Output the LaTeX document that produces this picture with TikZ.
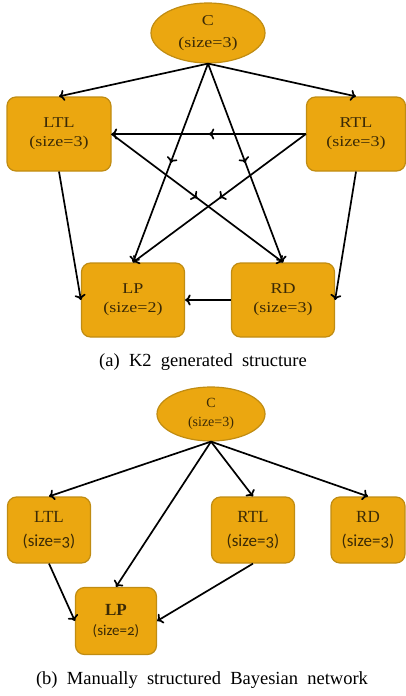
\documentclass[tikz,border=0pt]{standalone}
\usepackage{fontspec}
\setmainfont{Liberation Serif}
\newfontfamily\nodefont[FakeStretch=1.2]{Liberation Serif}
\newfontfamily\sizefont[Numbers=OldStyle]{Carlito}
\usetikzlibrary{arrows.meta,shapes.geometric,decorations.markings}
\definecolor{boxfill}{HTML}{EBA710}
\definecolor{boxline}{HTML}{C08C12}
\definecolor{boxtext}{HTML}{3B2A06}

\begin{document}
\begin{tikzpicture}[x=1pt,y=-1pt,>={To[length=5.5pt,width=11pt]},
    main node/.style={rectangle,rounded corners=9pt,draw=boxline,line width=1.2pt,fill=boxfill,text=boxtext,align=center,minimum width=104pt,minimum height=74pt,font=\nodefont\fontsize{15}{19}\selectfont},
    class node/.style={main node,ellipse,sharp corners,minimum width=114pt,minimum height=60pt,font=\nodefont\fontsize{15}{22}\selectfont},
    small node/.style={main node,minimum width=83pt,minimum height=66pt,font=\fontsize{17}{24}\selectfont},
    small class/.style={class node,minimum width=108pt,minimum height=54pt,font=\fontsize{14}{19}\selectfont},
    mid arrow/.style={postaction={decorate},decoration={markings,mark=at position 0.5 with {\arrow{>}}}},
    caption/.style={font=\fontsize{18.5}{22}\selectfont}]
    \useasboundingbox (0,0) rectangle (406,696);

    % (a) K2 structure
    \node[class node] at (208, 33) (c) {C\\(size=3)};
    \node[main node] at (59, 134) (ltl) {LTL\\(size=3)};
    \node[main node, minimum width=99pt] at (356, 134) (rtl) {RTL\\(size=3)};
    \node[main node, minimum width=103pt] at (133, 300) (lp) {LP\\(size=2)};
    \node[main node, minimum width=103pt] at (283, 300) (rd) {RD\\(size=3)};

    \path[->, line width=1.7pt]
        (c.south) edge (ltl.north)
        (c.south) edge (rtl.north)
        (c.south) edge[mid arrow] (lp.north)
        (c.south) edge[mid arrow] (rd.north)
        (rtl.west) edge[mid arrow] (ltl.east)
        (ltl.east) edge[mid arrow] (rd.north)
        (rtl.west) edge[mid arrow] (lp.north)
        (ltl.south) edge (lp.west)
        (rtl.south) edge (rd.east)
        (rd.west) edge (lp.east)
        ;

    \node[caption] at (203, 362) (capa) {(a)\ \ K2\ \ generated\ \ structure};

    % (b) manual structure
    \node[small class] at (211, 414) (c2) {C\\(size=3)};
    \node[small node] at (49, 530) (ltl2) {LTL\\{\sizefont (size=3)}};
    \node[small node] at (253, 530) (rtl2) {RTL\\{\sizefont (size=3)}};
    \node[small node, minimum width=74pt] at (368, 530) (rd2) {RD\\{\sizefont (size=3)}};
    \node[small node, minimum width=81pt, minimum height=67pt, font=\fontsize{17}{20}\selectfont] at (116, 621) (lp2) {\textbf{LP}\\{\sizefont\fontsize{15}{20}\selectfont (size=2)}};

    \path[->, line width=1.7pt]
        (c2.south) edge (ltl2.north)
        (c2.south) edge (rtl2.north)
        (c2.south) edge (rd2.north)
        (c2.south) edge (lp2.north)
        (ltl2.south) edge (lp2.west)
        (rtl2.south) edge (lp2.east)
        ;

    \node[caption] at (202, 680) (capb) {(b)\ \ Manually\ \ structured\ \ Bayesian\ \ network};
\end{tikzpicture}
\end{document}
